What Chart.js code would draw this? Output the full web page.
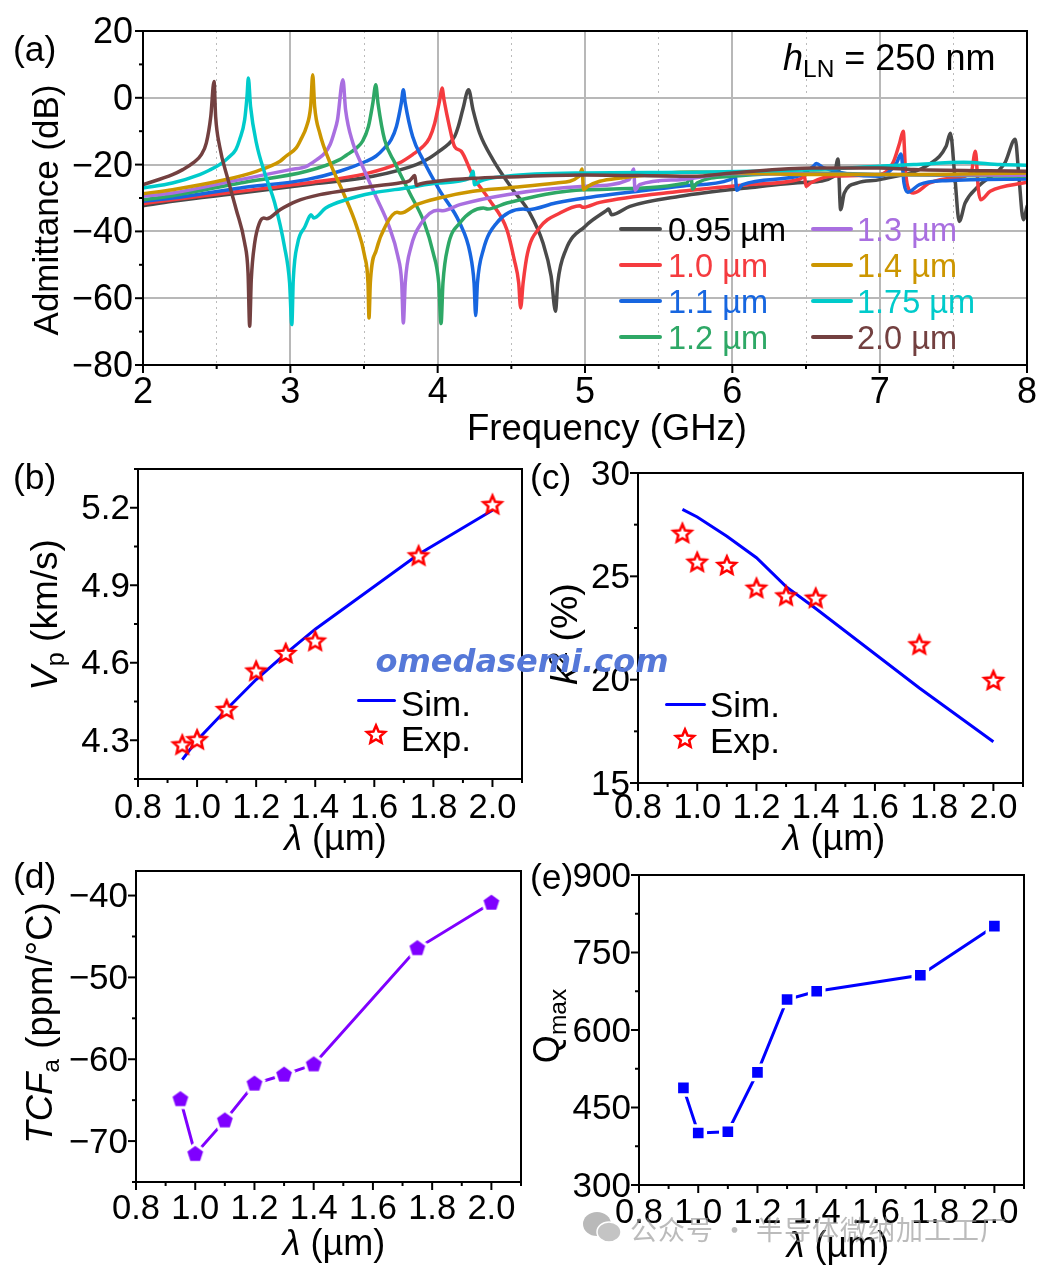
<!DOCTYPE html>
<html>
<head>
<meta charset="utf-8">
<title>LN resonator admittance</title>
<script src="https://cdn.jsdelivr.net/npm/chart.js@4"></script>
<style>
  html, body { margin: 0; padding: 0; background: #fff; }
  #page { position: relative; width: 1041px; height: 1270px; overflow: hidden; font-family: "Liberation Sans", Arial, sans-serif; color: #000; }
  canvas { position: absolute; }
  .txt { position: absolute; white-space: nowrap; line-height: 1; }
  .txt sub, .txt sup { font-size: 0.68em; line-height: 0; }
  .txt sub { vertical-align: -0.28em; }
  .txt sup { vertical-align: 0.42em; }
  .swatch { position: absolute; height: 4px; border-radius: 2px; }
</style>
</head>
<body>
<div id="page"></div>
<script>
// panel (a): one frequency/admittance pair per wavelength
const freq095 = [2,2.2,2.66,3.11,3.56,3.855,3.945,4.01,4.07,4.115,4.14,4.17,4.21,4.24,4.285,4.375,4.51,4.625,4.715,4.77,4.8,4.815,4.87,5,5.147,5.16,5.18,5.305,5.645,6.1,6.505,6.69,6.717,6.735,6.76,6.85,7,7.35,7.45,7.48,7.51,7.54,7.58,7.67,7.85,7.92,7.945,7.975,8];
const adm095 = [-32.3,-31,-28.5,-26,-23.5,-20,-18,-16,-14,-11.6,-8.6,-3.6,2.4,-3.6,-10.6,-18.5,-27.5,-34.5,-43.5,-53.4,-63.9,-55.4,-45.5,-38.5,-33.7,-33.3,-35,-32.5,-29.5,-27,-25.3,-23.5,-18.3,-33.5,-28.5,-25.5,-24.5,-19.5,-14.6,-10.6,-23.5,-37,-31.5,-26.5,-19.5,-12.4,-23.5,-36.5,-32.5];
const freq100 = [2,2.2,2.66,3.11,3.515,3.74,3.83,3.9,3.945,3.98,4.014,4.03,4.043,4.08,4.115,4.16,4.24,4.35,4.47,4.52,4.55,4.563,4.58,4.61,4.69,4.83,4.965,4.987,5.1,5.645,6.1,6.46,6.49,6.5,6.53,6.69,7,7.09,7.135,7.16,7.175,7.19,7.23,7.34,7.5,7.62,7.65,7.67,7.685,7.75,8];
const adm100 = [-31.7,-30.5,-28,-25.5,-22.7,-19.5,-17,-14.6,-12,-7.6,-0.6,2.9,-0.6,-8.6,-14.6,-16,-23.5,-30.5,-39.5,-48.5,-55.4,-62.9,-55.4,-46.5,-39,-34.5,-32.3,-32.8,-31.3,-28,-26,-24.3,-23.5,-26.5,-25.5,-23.4,-23,-19.5,-13.6,-10,-21.5,-26.5,-28.5,-25.5,-24,-22.5,-16,-27.5,-30.5,-28,-25.3];
const freq110 = [2,2.2,2.66,3.11,3.335,3.515,3.58,3.64,3.685,3.72,3.753,3.767,3.78,3.83,3.9,4.01,4.15,4.22,4.247,4.258,4.27,4.31,4.4,4.58,4.61,4.8,5,5.645,5.985,6.02,6.03,6.07,6.44,6.55,6.57,6.62,7,7.115,7.145,7.165,7.19,7.27,7.45,8];
const adm110 = [-31,-30,-27,-24.5,-22,-19,-17.5,-15,-12.5,-8.6,-1.6,2.4,-1.6,-11.6,-18.5,-27.5,-37.5,-46.5,-55.4,-65.2,-55.4,-45.5,-37.5,-33.3,-33.5,-31.5,-30,-26.5,-24.5,-23.5,-27.7,-26,-23.5,-20.5,-19.7,-21,-23.5,-19.5,-16.8,-25.5,-28.3,-26,-24.8,-24.3];
const freq120 = [2,2.2,2.66,3.11,3.335,3.38,3.45,3.49,3.53,3.56,3.58,3.595,3.64,3.71,3.81,3.91,3.97,4.007,4.023,4.036,4.07,4.15,4.31,4.34,4.47,5,5.69,5.72,5.73,5.76,6,6.55,7,8];
const adm120 = [-30.5,-29.3,-25.5,-22,-18.5,-17.2,-15,-13,-8.6,-1.6,3.9,-1.6,-12.6,-19.5,-28.5,-37.5,-46.5,-55.4,-67.6,-55.4,-44.5,-37.5,-33,-33.3,-31.5,-27.5,-25.5,-23.7,-27.3,-25.5,-23.5,-22.5,-23,-23.5];
const freq130 = [2,2.2,2.66,3,3.11,3.18,3.235,3.27,3.3,3.32,3.357,3.375,3.425,3.49,3.58,3.67,3.73,3.756,3.767,3.78,3.82,3.89,4,4.035,4.15,4.47,5,5.3,5.33,5.34,5.37,5.645,6,7,8];
const adm130 = [-29.5,-28.5,-24.5,-21.5,-20.5,-18.5,-16.5,-14,-10,-6.6,5.4,-3.6,-13.6,-20.5,-29.5,-38.5,-47.5,-55.4,-67.4,-55.4,-44.5,-37.5,-33.7,-33.8,-32,-29,-26.5,-24.5,-21.3,-27.7,-26,-24.5,-22.7,-23,-23.2];
const freq140 = [2,2.2,2.54,2.77,2.93,2.97,3.04,3.07,3.11,3.138,3.152,3.165,3.2,3.27,3.36,3.45,3.505,3.527,3.534,3.543,3.584,3.65,3.724,3.75,3.855,4.01,4.24,4.47,4.805,4.96,4.98,4.99,5.02,5.1,5.24,5.73,6.55,7,8];
const adm140 = [-28.7,-27.5,-24.7,-22,-19,-17.5,-15,-12.6,-8.6,-2.6,6.9,-2.6,-10.6,-19.5,-28.5,-38.5,-47.5,-55.4,-65.9,-55.4,-45.5,-38,-34.3,-34.5,-32,-30,-28,-27,-25.5,-23.5,-21.3,-27.5,-26.5,-25,-24,-22.2,-23,-23,-22.5];
const freq175 = [2,2.2,2.385,2.45,2.52,2.577,2.63,2.656,2.69,2.706,2.715,2.73,2.77,2.826,2.894,2.96,2.995,3.01,3.02,3.05,3.1,3.13,3.14,3.16,3.24,3.38,3.56,3.79,4.01,4.22,4.24,4.25,4.285,4.47,5,5.73,6.55,7,7.23,7.57,7.82,8];
const adm175 = [-27,-25.5,-23,-21.7,-20,-18,-15.5,-12.5,-6.6,0.4,5.9,-2.6,-13.6,-22.5,-31.5,-44.5,-55.4,-67.9,-54.4,-43.5,-38.5,-35.5,-35,-36,-33,-30.5,-28.5,-27,-25.5,-24,-22,-26,-25,-23.5,-22.5,-22.3,-21.5,-20.5,-20,-19.3,-20,-20.2];
const freq200 = [2,2.2,2.27,2.34,2.396,2.43,2.46,2.482,2.493,2.52,2.577,2.633,2.69,2.713,2.724,2.735,2.758,2.79,2.82,2.84,2.93,3.04,3.2,3.38,3.56,3.74,3.81,3.845,3.855,3.88,4.01,4.24,4.47,5,5.73,6,6.55,7,7.23,8];
const adm200 = [-26,-23,-21.5,-19.5,-17,-13.5,-5.6,4.9,-5.6,-14.5,-24.5,-33.5,-43.5,-52.4,-68.4,-54.4,-43.5,-37.5,-36,-36.2,-33.5,-31,-29,-27.7,-26.5,-25.5,-24.8,-23.3,-26.2,-25.8,-24.9,-24.1,-23.7,-23.1,-23.5,-22.5,-21,-21,-21.5,-22];
const curveNames = ["0.95 µm","1.0 µm","1.1 µm","1.2 µm","1.3 µm","1.4 µm","1.75 µm","2.0 µm"];
const curveColors = ["#4a4a4a","#f53b3f","#1766e0","#2ea866","#a96fe0","#cc9600","#00cbcb","#734040"];
const curveFreqs = [freq095,freq100,freq110,freq120,freq130,freq140,freq175,freq200];
const curveAdms = [adm095,adm100,adm110,adm120,adm130,adm140,adm175,adm200];

// panels (b)-(e)
const wavelengths = [0.95,1.0,1.1,1.2,1.3,1.4,1.75,2.0];
const vpSim = [4.225,4.30,4.42,4.535,4.635,4.73,5.02,5.19];
const vpExp = [4.28,4.30,4.417,4.566,4.634,4.682,5.012,5.21];
const k2Sim = [28.24,27.87,26.94,25.9,24.5,23.44,19.6,17.0];
const k2Exp = [27.06,25.66,25.5,24.4,24.03,23.92,21.66,19.94];
const tcfValues = [-64.9,-71.6,-67.5,-63,-61.9,-60.65,-46.45,-40.9];
const qValues = [488,400.6,403,518,659,675,706,801];

// labelled ticks, the other ticks are unlabelled minors
const lambdaLabels = [0.8,1.0,1.2,1.4,1.6,1.8,2.0];
const freqLabels = [2,3,4,5,6,7,8];
const admLabels = [-80,-60,-40,-20,0,20];
const vpLabels = [4.3,4.6,4.9,5.2];
const k2Labels = [15,20,25,30];
const tcfLabels = [-70,-60,-50,-40];
const qLabels = [300,450,600,750,900];

const FONT = '"Liberation Sans", Arial, sans-serif';
const page = document.getElementById("page");

function addText(html, x, y, size, opts = {}) {
  const el = document.createElement("div");
  el.className = "txt";
  el.innerHTML = html;
  el.style.fontSize = size + "px";
  el.style.left = x + "px";
  el.style.top = y + "px";
  el.style.color = opts.color || "#000";
  if (opts.family) el.style.fontFamily = opts.family;
  if (opts.css) el.style.cssText += opts.css;
  // left anchored unless centered, always vertically centered on y
  const ax = opts.left ? "0" : "-50%";
  el.style.transform = `translate(${ax},-50%)` + (opts.rotate ? ` rotate(${opts.rotate}deg)` : "");
  page.appendChild(el);
  return el;
}

function isLabelled(labels, v) {
  return labels.some((l) => Math.abs(l - v) < 1e-6);
}

function fmtMinus(v, digits) {
  return v.toFixed(digits).replace("-", "\u2212");
}

// frame and outward ticks: long on labelled values, short on the rest
const frameTicks = {
  id: "frameTicks",
  afterDraw(chart) {
    const { ctx, chartArea: a, scales } = chart;
    ctx.save();
    ctx.strokeStyle = "#000";
    ctx.lineWidth = 2;
    ctx.strokeRect(a.left, a.top, a.right - a.left, a.bottom - a.top);
    scales.x.ticks.forEach((t, i) => {
      const px = scales.x.getPixelForTick(i);
      const len = t.label !== "" ? 8 : 4;
      ctx.beginPath();
      ctx.moveTo(px, a.bottom);
      ctx.lineTo(px, a.bottom + len);
      ctx.stroke();
    });
    scales.y.ticks.forEach((t, i) => {
      const py = scales.y.getPixelForTick(i);
      const len = t.label !== "" ? 8 : 4;
      ctx.beginPath();
      ctx.moveTo(a.left, py);
      ctx.lineTo(a.left - len, py);
      ctx.stroke();
    });
    ctx.restore();
  },
};

function makeScale(cfg) {
  return {
    type: "linear",
    min: cfg.min,
    max: cfg.max,
    grid: cfg.grid || { display: false, drawTicks: false },
    border: cfg.border || { display: false },
    ticks: {
      stepSize: cfg.step,
      autoSkip: false,
      includeBounds: false,
      maxRotation: 0,
      minRotation: 0,
      padding: cfg.padding,
      labelOffset: cfg.labelOffset || 0,
      color: "#000",
      font: { family: FONT, size: cfg.size },
      callback: (v) => (isLabelled(cfg.labels, v) ? fmtMinus(v, cfg.digits) : ""),
    },
    afterFit: cfg.afterFit,
  };
}

function makePanel(box, plot, datasets, xCfg, yCfg) {
  const cv = document.createElement("canvas");
  cv.width = box.r - box.l;
  cv.height = box.b - box.t;
  cv.style.left = box.l + "px";
  cv.style.top = box.t + "px";
  page.appendChild(cv);
  xCfg.afterFit = (s) => { s.height = box.b - plot.b; };
  yCfg.afterFit = (s) => { s.width = plot.l - box.l; };
  return new Chart(cv, {
    type: "line",
    data: { datasets },
    options: {
      responsive: false,
      animation: false,
      devicePixelRatio: 1,
      layout: { padding: { left: 0, top: plot.t - box.t, right: box.r - plot.r, bottom: 0 } },
      plugins: { legend: { display: false }, tooltip: { enabled: false } },
      scales: { x: makeScale(xCfg), y: makeScale(yCfg) },
    },
    plugins: [frameTicks],
  });
}

function toPoints(xs, ys) {
  return xs.map((x, i) => ({ x, y: ys[i] }));
}

// markers Chart.js has no built in style for
function polyMarker(points, outer, inner, fill, stroke, lw, size) {
  const c = document.createElement("canvas");
  c.width = size;
  c.height = size;
  const g = c.getContext("2d");
  g.translate(size / 2, size / 2);
  g.beginPath();
  const n = inner ? points * 2 : points;
  for (let i = 0; i < n; i++) {
    const r = inner && i % 2 ? inner : outer;
    const ang = -Math.PI / 2 + (i * 2 * Math.PI) / n;
    g.lineTo(r * Math.cos(ang), r * Math.sin(ang));
  }
  g.closePath();
  g.fillStyle = fill;
  g.fill();
  g.strokeStyle = stroke;
  g.lineWidth = lw;
  g.lineJoin = "miter";
  g.stroke();
  return c;
}
const starMarker = () => polyMarker(5, 9.5, 4.4, "#fff", "#ff0000", 2.6, 28);

function pentagonMarker() {
  const c = polyMarker(5, 9.5, 0, "#fff", "#fff", 4, 30);
  const top = polyMarker(5, 8, 0, "#7f00ff", "#7f00ff", 0.5, 30);
  c.getContext("2d").setTransform(1, 0, 0, 1, 0, 0);
  c.getContext("2d").drawImage(top, 0, 0);
  return c;
}

function lambdaAxis(padding) {
  return { min: 0.8, max: 2.1, step: 0.1, labels: lambdaLabels, digits: 1, size: 34.5, padding };
}

function simExpData(sim, exp) {
  return [
    { data: toPoints(wavelengths, sim), borderColor: "#0000ff", borderWidth: 3, pointRadius: 0, order: 2 },
    { data: toPoints(wavelengths, exp), showLine: false, pointStyle: starMarker(), pointRadius: 10, order: 1 },
  ];
}

function dotLine(values, color, marker, radius, bw) {
  return [{
    data: toPoints(wavelengths, values),
    borderColor: color,
    borderWidth: 3,
    pointStyle: marker,
    pointRadius: radius,
    pointBackgroundColor: color,
    pointBorderColor: "#fff",
    pointBorderWidth: bw,
  }];
}

// (a)
makePanel(
  { l: 0, t: -8, r: 1070, b: 452 },
  { l: 143, t: 31, r: 1027, b: 365 },
  curveFreqs.map((xs, i) => ({
    label: curveNames[i],
    data: toPoints(xs, curveAdms[i]),
    borderColor: curveColors[i],
    borderWidth: 3.5,
    borderJoinStyle: "round",
    borderCapStyle: "round",
    cubicInterpolationMode: "monotone",
    pointRadius: 0,
    order: curveFreqs.length - i,
  })),
  {
    min: 2, max: 8, step: 0.5, labels: freqLabels, digits: 0, size: 36, padding: 6,
    grid: {
      drawTicks: false,
      color: (c) => (Number.isInteger(c.tick.value) ? "#b8b8b8" : "#bbbbbb"),
      lineWidth: (c) => (Number.isInteger(c.tick.value) ? 2 : 1),
    },
    border: { display: false, dash: (c) => (c.tick && Number.isInteger(c.tick.value) ? [] : [2, 4]) },
  },
  {
    min: -80, max: 20, step: 10, labels: admLabels, digits: 0, size: 36, padding: 10, labelOffset: 2,
    grid: {
      drawTicks: false,
      color: (c) => (c.tick.value % 20 === 0 ? "#b8b8b8" : "rgba(0,0,0,0)"),
      lineWidth: 2,
    },
  }
);

// (b)
makePanel(
  { l: 0, t: 425, r: 560, b: 860 },
  { l: 138, t: 469, r: 522, b: 779 },
  simExpData(vpSim, vpExp),
  lambdaAxis(9),
  { min: 4.15, max: 5.35, step: 0.15, labels: vpLabels, digits: 1, size: 35, padding: 8, labelOffset: 2 }
);

// (c)
makePanel(
  { l: 525, t: 430, r: 1060, b: 860 },
  { l: 638, t: 473, r: 1023, b: 783 },
  simExpData(k2Sim, k2Exp),
  lambdaAxis(5),
  { min: 15, max: 30, step: 2.5, labels: k2Labels, digits: 0, size: 35, padding: 8, labelOffset: 2 }
);

// (d)
makePanel(
  { l: 0, t: 830, r: 560, b: 1270 },
  { l: 136, t: 871, r: 521, b: 1182 },
  dotLine(tcfValues, "#7f00ff", pentagonMarker(), 10, 0),
  lambdaAxis(7),
  { min: -75, max: -37, step: 5, labels: tcfLabels, digits: 0, size: 35, padding: 8, labelOffset: 2 }
);

// (e)
makePanel(
  { l: 525, t: 832, r: 1060, b: 1270 },
  { l: 639, t: 875, r: 1024, b: 1185 },
  dotLine(qValues, "#0000ff", "rect", 10, 3.5),
  lambdaAxis(8),
  { min: 300, max: 900, step: 75, labels: qLabels, digits: 0, size: 35, padding: 8, labelOffset: 2 }
);

// panel letters
addText("(a)", 13, 50, 35.5, { left: true });
addText("(b)", 13, 478, 35.5, { left: true });
addText("(c)", 530, 478, 35.5, { left: true });
addText("(d)", 13, 877, 35.5, { left: true });
addText("(e)", 530, 878, 35.5, { left: true });

// axis titles
const LAMBDA = "<i>λ</i> (µm)";
addText("Frequency (GHz)", 607, 428, 36.5);
addText("Admittance (dB)", 45, 210, 35, { rotate: -90 });
addText(LAMBDA, 335.5, 838, 36);
addText(LAMBDA, 834, 838, 36);
addText(LAMBDA, 334, 1243, 36);
addText(LAMBDA, 838, 1245, 36);
addText("<i>V</i><sub>p</sub> (km/s)", 44, 615, 37, { rotate: -90 });
addText("<i>k</i><sup>2</sup> (%)", 565, 634, 37.5, { rotate: -90 });
addText("<i>TCF</i><sub>a</sub> (ppm/°C)", 40, 1023, 36.5, { rotate: -90 });
addText("Q<sub>max</sub>", 547, 1026, 36, { rotate: -90 });
addText("<i>h</i><sub>LN</sub> = 250 nm", 783, 58, 36, { left: true });

// (a) legend
const legendRows = [229, 265, 301, 337];
curveNames.forEach((name, i) => {
  const col = i < 4 ? 0 : 1;
  const y = legendRows[i % 4];
  const sw = document.createElement("div");
  sw.className = "swatch";
  sw.style.cssText += `left:${col ? 811 : 619}px;width:${col ? 42 : 43}px;top:${y - 2}px;background:${curveColors[i]}`;
  page.appendChild(sw);
  addText(name, col ? 857 : 668, y + 1, 32.5, { left: true, color: i === 0 ? "#000" : curveColors[i] });
});

// (b)/(c) legends
function simExpLegend(x0, x1, lineY, textX, simY, starX, starY, expY) {
  const sw = document.createElement("div");
  sw.className = "swatch";
  sw.style.cssText += `left:${x0}px;width:${x1 - x0}px;top:${lineY - 1.5}px;height:3px;background:#0000ff`;
  page.appendChild(sw);
  addText("Sim.", textX, simY, 35, { left: true });
  addText("Exp.", textX, expY, 35, { left: true });
  const s = starMarker();
  s.style.left = starX - 14 + "px";
  s.style.top = starY - 14 + "px";
  page.appendChild(s);
}
simExpLegend(357, 396, 700, 401, 703, 376, 735, 738);
simExpLegend(665, 706, 704, 710, 704, 685, 739, 740);

// overlaid site and account marks in the source image
addText("omedasemi.com", 522, 661, 32, { family: '"DejaVu Sans"', color: "#5578d8", css: "font-weight:bold;font-style:italic" });
const wm = document.createElement("div");
wm.innerHTML = `<svg width="40" height="34" style="position:absolute;left:582px;top:1211px"><ellipse cx="15" cy="13" rx="14" ry="12" fill="#b9b9b9"/><ellipse cx="27" cy="21" rx="12" ry="10" fill="#c4c4c4" stroke="#fff" stroke-width="1.5"/></svg>`;
page.appendChild(wm);
addText("公众号 · 半导体微纳加工工厂", 630, 1228, 27, { left: true, family: '"Noto Sans CJK SC"', color: "rgba(150,150,150,0.65)", css: "letter-spacing:1px" });
</script>
</body>
</html>
